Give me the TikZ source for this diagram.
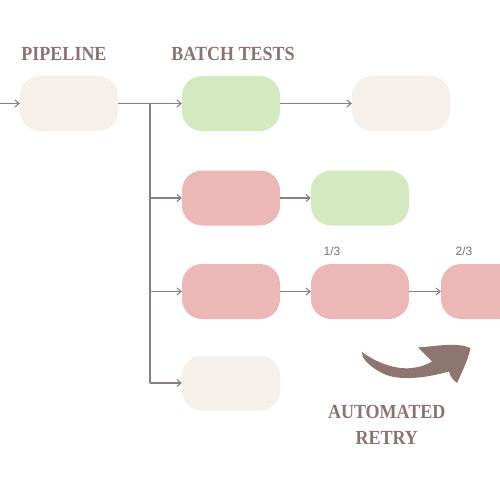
\documentclass[tikz,border=0pt]{standalone}
\usepackage{fontspec}
\usetikzlibrary{arrows.meta}
\newfontfamily\headfont[FakeStretch=0.9]{Liberation Serif}
\newfontfamily\smallfont{Liberation Sans}
\definecolor{beigebox}{HTML}{F6EFEA}
\definecolor{greenbox}{HTML}{D3EAC1}
\definecolor{redbox}{HTML}{EBB8B6}
\definecolor{linec}{HTML}{8B7E7C}
\definecolor{headc}{HTML}{8B7470}
\definecolor{arrowc}{HTML}{8E7670}
\definecolor{smallc}{HTML}{7A7070}
\tikzset{
  stagebox/.style={minimum width=98pt, minimum height=55pt, rounded corners=20pt, inner sep=0pt, draw=none},
  conn/.style={draw=linec, line width=1.1pt, -{Straight Barb[length=4pt,width=7pt]}},
  plainconn/.style={draw=linec, line width=1.1pt},
  heading/.style={text=headc, font=\headfont\bfseries\fontsize{20}{24}\selectfont, inner sep=0pt},
  frac/.style={text=smallc, font=\smallfont\fontsize{12}{14}\selectfont, inner sep=0pt}
}
\begin{document}
\begin{tikzpicture}[x=1pt,y=-1pt]
\useasboundingbox (0,0) rectangle (500,500);
\clip (0,0) rectangle (500,500);
\fill[white] (0,0) rectangle (500,500);

\node[heading] (hpipe) at (64,54) {PIPELINE};
\node[heading] (hbatch) at (233,54) {BATCH TESTS};

\node[stagebox, fill=beigebox] (pipe) at (69,103.5) {};
\node[stagebox, fill=greenbox] (b1) at (231,103.5) {};
\node[stagebox, fill=beigebox] (t1) at (401,103.5) {};
\node[stagebox, fill=redbox] (b2) at (231,198) {};
\node[stagebox, fill=greenbox] (g2) at (360,198) {};
\node[stagebox, fill=redbox] (b3) at (231,291.5) {};
\node[stagebox, fill=redbox] (r3) at (360,291.5) {};
\node[stagebox, fill=redbox] (r4) at (490,291.5) {};
\node[stagebox, fill=beigebox] (b4) at (231,383) {};

\node[frac] (f1) at (332,251) {1/3};
\node[frac] (f2) at (464,251) {2/3};

\coordinate (in) at (0,103.5);
\coordinate (br) at (150,103.5);

\draw[conn] (in) -- (pipe.west);
\draw[conn] (pipe.east) -- (b1.west);
\draw[plainconn] (br) -- (br |- b4.west);
\draw[conn] (br |- b2.west) -- (b2.west);
\draw[conn] (br |- b3.west) -- (b3.west);
\draw[conn] (br |- b4.west) -- (b4.west);
\draw[conn] (b1.east) -- (t1.west);
\draw[conn] (b2.east) -- (g2.west);
\draw[conn] (b3.east) -- (r3.west);
\draw[conn] (r3.east) -- (r4.west);

% automated retry curved arrow
\fill[arrowc] (361.7,351.7) .. controls (375,362) and (395,370) .. (412,368)
  .. controls (421,367) and (428,364) .. (432,361.5)
  -- (418,347.5)
  .. controls (438,346) and (456,342) .. (470.5,348)
  .. controls (468,360) and (462,372) .. (457,383)
  .. controls (453,380) and (450,376) .. (449,371.5)
  .. controls (430,377) and (400,382) .. (383,373.5)
  .. controls (372,368) and (366,362) .. (363,357.5) -- cycle;

\node[heading] (hauto) at (386.7,411.7) {AUTOMATED};
\node[heading] (hretry) at (386.7,438.3) {RETRY};
\end{tikzpicture}
\end{document}
